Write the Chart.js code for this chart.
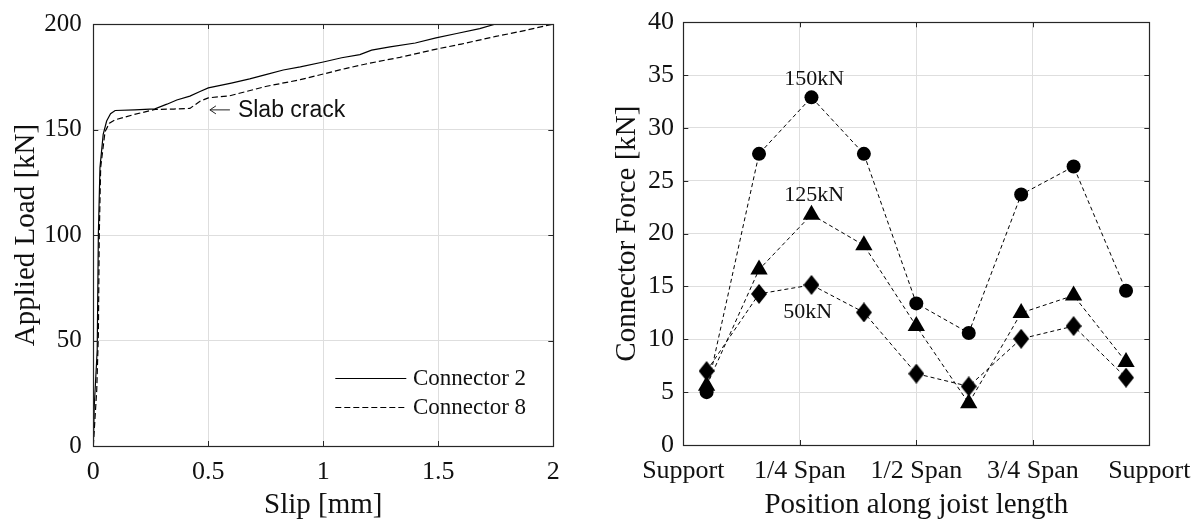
<!DOCTYPE html>
<html>
<head>
<meta charset="utf-8">
<script src="https://cdn.jsdelivr.net/npm/chart.js@4/dist/chart.umd.min.js"></script>
<style>
  html, body { margin: 0; padding: 0; background: #fff; }
  #wrap { position: relative; width: 1204px; height: 520px; background: #fff; }
  .panel { position: absolute; top: 0; height: 520px; }
  #p1 { left: 0; width: 600px; }
  #p2 { left: 600px; width: 604px; }
</style>
</head>
<body>
<div id="wrap">
  <div class="panel" id="p1"><canvas id="c1" width="600" height="520"></canvas></div>
  <div class="panel" id="p2"><canvas id="c2" width="604" height="520"></canvas></div>
</div>
<script>
// ---------- Left panel data: load-slip curves ----------
const slipConnector2 = [0, 0.004, 0.017, 0.022, 0.029, 0.043, 0.058, 0.075, 0.095, 0.18, 0.268, 0.32, 0.363, 0.42, 0.464, 0.5, 0.6, 0.68, 0.75, 0.826, 0.9, 1.0, 1.08, 1.159, 1.21, 1.29, 1.4, 1.49, 1.58, 1.68, 1.75];
const loadConnector2 = [0, 18.5, 45.5, 100.5, 132, 147.7, 154, 157.5, 159, 159.3, 159.8, 162, 164, 165.8, 168, 169.7, 172, 174, 176, 178.2, 179.7, 182, 184, 185.5, 187.6, 189.2, 191, 193.4, 195.5, 197.8, 200];
const slipConnector8 = [0, 0.015, 0.022, 0.026, 0.032, 0.051, 0.07, 0.095, 0.174, 0.268, 0.35, 0.42, 0.464, 0.5, 0.594, 0.754, 0.9, 1.0, 1.1, 1.2, 1.333, 1.5, 1.6, 1.75, 1.88, 2.0];
const loadConnector8 = [0, 26.7, 53, 100.5, 132, 149, 153, 154.6, 157, 159.5, 159.7, 160, 163.4, 165, 166, 170.5, 173.6, 176.3, 179, 181.4, 184.2, 188.3, 190.5, 194.1, 197, 200];
const seriesNamesLeft = ['Connector 2', 'Connector 8'];
const slipTicks = [0, 0.5, 1, 1.5, 2];
const slipTickLabels = ['0', '0.5', '1', '1.5', '2'];
const loadTicks = [0, 50, 100, 150, 200];
const crackNote = { text: 'Slab crack', slip: 0.507, load: 159.3 };

// ---------- Right panel data: connector forces ----------
const positionTicks = [0, 0.25, 0.5, 0.75, 1];
const positionLabels = ['Support', '1/4 Span', '1/2 Span', '3/4 Span', 'Support'];
const connectorPos = [0.05, 0.1625, 0.275, 0.3875, 0.5, 0.6125, 0.725, 0.8375, 0.95];
const force150 = [5.0, 27.55, 32.9, 27.55, 13.4, 10.6, 23.7, 26.35, 14.6];
const force125 = [5.6, 16.6, 21.8, 18.9, 11.25, 3.95, 12.5, 14.15, 7.85];
const force50  = [7.0, 14.3, 15.15, 12.55, 6.75, 5.55, 10.05, 11.25, 6.37];
const forceTicks = [0, 5, 10, 15, 20, 25, 30, 35, 40];
const loadLevelLabels = ['150kN', '125kN', '50kN'];
const loadLevelLabelX = [0.281, 0.281, 0.267];
const loadLevelLabelY = [34.75, 23.76, 12.7];

// ---------- shared styling ----------
const SERIF = "'Liberation Serif', 'Times New Roman', serif";
const SANS = "'Liberation Sans', Arial, sans-serif";
const TEXT = '#111';
const GRID = '#dedede';
const AXIS = '#262626';

function pairs(xs, ys) { return xs.map((x, i) => ({ x: x, y: ys[i] })); }

function makeDiamond(w, h) {
  const c = document.createElement('canvas');
  c.width = w; c.height = h;
  const g = c.getContext('2d');
  g.fillStyle = '#000';
  g.beginPath();
  g.moveTo(w / 2, 0); g.lineTo(w, h / 2); g.lineTo(w / 2, h); g.lineTo(0, h / 2);
  g.closePath(); g.fill();
  return c;
}

// MATLAB-like box with inward ticks
const boxPlugin = {
  id: 'box',
  afterDraw(chart) {
    const { ctx, chartArea: a } = chart;
    const xs = chart.scales.x, ys = chart.scales.y;
    ctx.save();
    ctx.strokeStyle = AXIS;
    ctx.lineWidth = 1;
    ctx.beginPath();
    const L = 5;
    xs.ticks.forEach(t => {
      const px = Math.round(xs.getPixelForValue(t.value)) + 0.5;
      ctx.moveTo(px, a.bottom); ctx.lineTo(px, a.bottom - L);
      ctx.moveTo(px, a.top); ctx.lineTo(px, a.top + L);
    });
    ys.ticks.forEach(t => {
      const py = Math.round(ys.getPixelForValue(t.value)) + 0.5;
      ctx.moveTo(a.left, py); ctx.lineTo(a.left + L, py);
      ctx.moveTo(a.right, py); ctx.lineTo(a.right - L, py);
    });
    ctx.stroke();
    ctx.lineWidth = 1.2;
    ctx.strokeRect(Math.round(a.left) + 0.5, Math.round(a.top) + 0.5, Math.round(a.right - a.left), Math.round(a.bottom - a.top));
    ctx.restore();
  }
};

// Legend drawn inside the lower-right of the left axes
const innerLegend = {
  id: 'innerLegend',
  afterDatasetsDraw(chart) {
    const { ctx, chartArea: a } = chart;
    ctx.save();
    chart.data.datasets.forEach((ds, i) => {
      const y = a.bottom - 67.7 + i * 28.4;
      const x0 = a.right - 218;
      ctx.strokeStyle = ds.borderColor;
      ctx.lineWidth = ds.borderWidth;
      ctx.setLineDash(ds.borderDash || []);
      ctx.beginPath();
      ctx.moveTo(x0, Math.round(y) + 0.5); ctx.lineTo(x0 + 71, Math.round(y) + 0.5);
      ctx.stroke();
      ctx.setLineDash([]);
      ctx.fillStyle = TEXT;
      ctx.font = '23px ' + SERIF;
      ctx.textAlign = 'left';
      ctx.textBaseline = 'middle';
      ctx.fillText(ds.label, x0 + 77.7, y + 1);
    });
    ctx.restore();
  }
};

const crackPlugin = {
  id: 'crack',
  afterDatasetsDraw(chart) {
    const { ctx } = chart;
    const x = chart.scales.x.getPixelForValue(crackNote.slip);
    const y = chart.scales.y.getPixelForValue(crackNote.load);
    ctx.save();
    ctx.strokeStyle = '#222';
    ctx.lineWidth = 1;
    ctx.beginPath();
    ctx.moveTo(x, y); ctx.lineTo(x + 20, y);
    ctx.moveTo(x + 6, y - 4); ctx.lineTo(x, y); ctx.lineTo(x + 6, y + 4);
    ctx.stroke();
    ctx.fillStyle = TEXT;
    ctx.font = '23px ' + SANS;
    ctx.textAlign = 'left';
    ctx.textBaseline = 'middle';
    ctx.fillText(crackNote.text, x + 28, y + 1);
    ctx.restore();
  }
};

const levelLabels = {
  id: 'levelLabels',
  afterDatasetsDraw(chart) {
    const { ctx } = chart;
    ctx.save();
    ctx.fillStyle = TEXT;
    ctx.font = '22px ' + SERIF;
    ctx.textAlign = 'center';
    ctx.textBaseline = 'middle';
    loadLevelLabels.forEach((t, i) => {
      ctx.fillText(t, chart.scales.x.getPixelForValue(loadLevelLabelX[i]), chart.scales.y.getPixelForValue(loadLevelLabelY[i]) + 1);
    });
    ctx.restore();
  }
};

function axisCommon(extra) {
  return Object.assign({
    border: { display: false },
    grid: { color: GRID, lineWidth: 1, drawTicks: false },
  }, extra);
}

// ---------- Left chart ----------
new Chart(document.getElementById('c1'), {
  type: 'scatter',
  data: {
    datasets: [
      { label: seriesNamesLeft[0], data: pairs(slipConnector2, loadConnector2), showLine: true, borderColor: '#000', borderWidth: 1.2, pointRadius: 0, tension: 0, fill: false },
      { label: seriesNamesLeft[1], data: pairs(slipConnector8, loadConnector8), showLine: true, borderColor: '#000', borderWidth: 1.2, borderDash: [6, 3], pointRadius: 0, tension: 0, fill: false }
    ]
  },
  options: {
    responsive: false,
    animation: false,
    events: [],
    layout: { padding: { left: 0, right: 46.7, top: 22, bottom: 0 } },
    plugins: { legend: { display: false }, tooltip: { enabled: false } },
    scales: {
      x: axisCommon({
        type: 'linear', min: 0, max: 2,
        afterBuildTicks: s => { s.ticks = slipTicks.map(v => ({ value: v })); },
        afterFit: s => { s.height = 74; },
        ticks: { padding: 13, color: TEXT, font: { family: SERIF, size: 26, lineHeight: 1 }, callback: (v) => slipTickLabels[slipTicks.indexOf(v)] },
        title: { display: true, text: 'Slip [mm]', color: TEXT, font: { family: SERIF, size: 29, lineHeight: 1 }, padding: { top: 0, bottom: 0.5 } }
      }),
      y: axisCommon({
        type: 'linear', min: 0, max: 200,
        afterBuildTicks: s => { s.ticks = loadTicks.map(v => ({ value: v })); },
        afterFit: s => { s.width = 93.3; },
        ticks: { padding: 11.5, color: TEXT, font: { family: SERIF, size: 25, lineHeight: 1 }, callback: v => String(v) },
        title: { display: true, text: 'Applied Load [kN]', color: TEXT, font: { family: SERIF, size: 29, lineHeight: 1 }, padding: { top: 12, bottom: 0 } }
      })
    }
  },
  plugins: [innerLegend, crackPlugin, boxPlugin]
});

// ---------- Right chart ----------
const diamond = makeDiamond(16, 20);
const dashedSeries = (label, ys, style, radius) => ({
  label: label, data: pairs(connectorPos, ys), showLine: true,
  borderColor: '#000', borderWidth: 1, borderDash: [4, 3], tension: 0, fill: false,
  pointStyle: style, pointRadius: radius, pointBackgroundColor: '#000', pointBorderColor: '#000', pointBorderWidth: 0
});

new Chart(document.getElementById('c2'), {
  type: 'scatter',
  data: {
    datasets: [
      dashedSeries('150kN', force150, 'circle', 7),
      dashedSeries('125kN', force125, 'triangle', 10),
      dashedSeries('50kN', force50, diamond, 8)
    ]
  },
  options: {
    responsive: false,
    animation: false,
    events: [],
    layout: { padding: { left: 0, right: 52.3, top: 20, bottom: 0 } },
    plugins: { legend: { display: false }, tooltip: { enabled: false } },
    scales: {
      x: axisCommon({
        type: 'linear', min: 0, max: 1,
        afterBuildTicks: s => { s.ticks = positionTicks.map(v => ({ value: v })); },
        afterFit: s => { s.height = 75; },
        ticks: { padding: 13.5, color: TEXT, font: { family: SERIF, size: 26, lineHeight: 1 }, callback: (v) => positionLabels[positionTicks.indexOf(v)] },
        title: { display: true, text: 'Position along joist length', color: TEXT, font: { family: SERIF, size: 29, lineHeight: 1 }, padding: { top: 0, bottom: 0.5 } }
      }),
      y: axisCommon({
        type: 'linear', min: 0, max: 40,
        afterBuildTicks: s => { s.ticks = forceTicks.map(v => ({ value: v })); },
        afterFit: s => { s.width = 83.3; },
        ticks: { padding: 9.3, color: TEXT, font: { family: SERIF, size: 26, lineHeight: 1 }, callback: v => String(v) },
        title: { display: true, text: 'Connector Force [kN]', color: TEXT, font: { family: SERIF, size: 29, lineHeight: 1 }, padding: { top: 13, bottom: 0 } }
      })
    }
  },
  plugins: [levelLabels, boxPlugin]
});
</script>
</body>
</html>
